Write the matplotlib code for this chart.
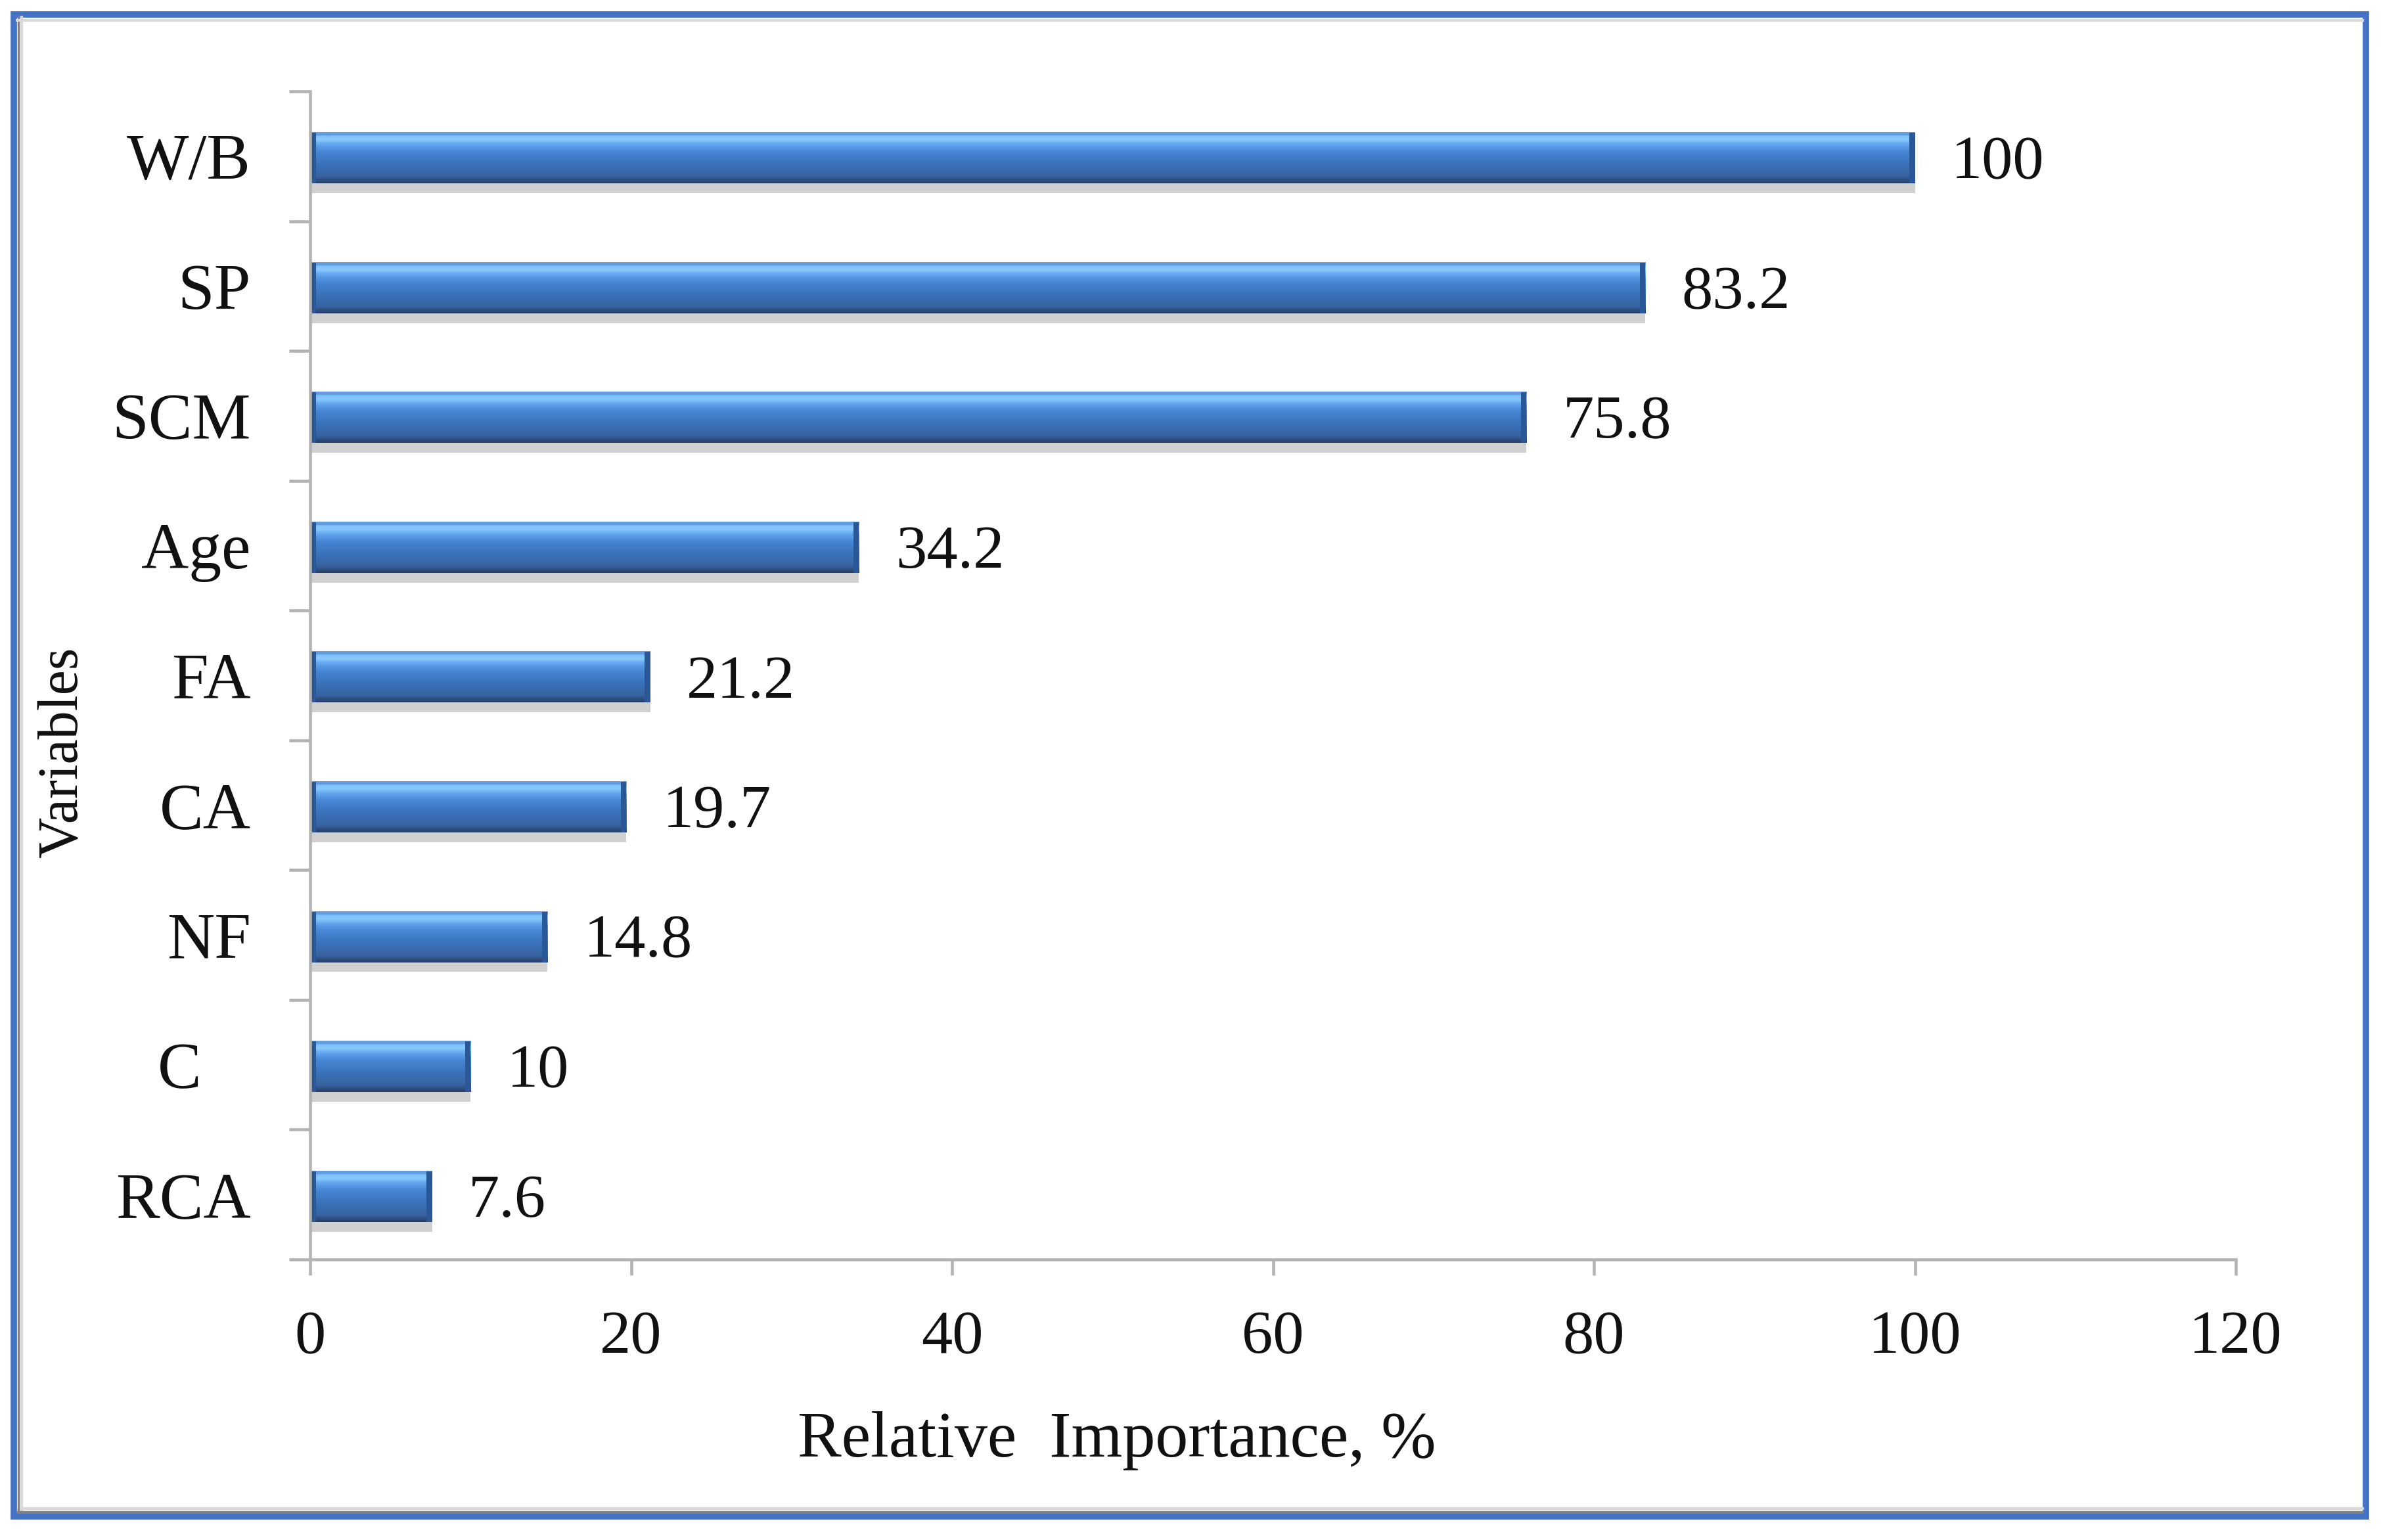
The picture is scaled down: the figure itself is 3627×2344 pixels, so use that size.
import numpy as np
import matplotlib
matplotlib.use("Agg")
import matplotlib.pyplot as plt
from matplotlib.colors import LinearSegmentedColormap
from matplotlib.patches import Rectangle
from matplotlib.lines import Line2D

# ---- data (bottom to top) ----
categories = ["RCA", "C   ", "NF", "CA", "FA", "Age", "SCM", "SP", "W/B"]
values = [7.6, 10, 14.8, 19.7, 21.2, 34.2, 75.8, 83.2, 100]
value_labels = ["7.6", "10", "14.8", "19.7", "21.2", "34.2", "75.8", "83.2", "100"]
xticks = [0, 20, 40, 60, 80, 100, 120]

W, H, DPI = 3627, 2344, 100
fig = plt.figure(figsize=(W / DPI, H / DPI), dpi=DPI)
fig.patch.set_facecolor("white")

plt.rcParams["font.family"] = ["Liberation Serif", "DejaVu Serif"]

ax = fig.add_axes([472 / W, 1 - 1917 / H, (3403 - 472) / W, (1917 - 139) / H])
ax.set_facecolor("none")

y = np.arange(len(categories))
bh = 0.39
yc = y - 0.015

# shadow
ax.barh(yc - 0.075, values, height=bh, color="#c8c8c8", alpha=0.85, zorder=1, linewidth=0)
bars = ax.barh(yc, values, height=bh, color="none", edgecolor="none", zorder=3)

cmap = LinearSegmentedColormap.from_list(
    "bar",
    [(0.0, "#263f66"), (0.07, "#2f4f80"), (0.13, "#3862a0"), (0.4, "#3b74bc"),
     (0.62, "#4787d6"), (0.76, "#62a4ee"), (0.85, "#86c9fc"), (0.92, "#80c2f9"),
     (0.95, "#5c9ae4"), (1.0, "#6a9fdc")])
grad = np.linspace(0, 1, 256).reshape(-1, 1)
for b in bars:
    x0, y0, w, h = b.get_x(), b.get_y(), b.get_width(), b.get_height()
    ax.imshow(grad, cmap=cmap, extent=(x0, x0 + w, y0, y0 + h), origin="lower",
              aspect="auto", zorder=2, interpolation="bilinear")
    # darker end caps
    ax.add_patch(Rectangle((x0, y0), 0.35, h, color="#2a5796", zorder=2.5, lw=0))
    ax.add_patch(Rectangle((x0 + w - 0.35, y0), 0.35, h, color="#2a5796", zorder=2.5, lw=0))

ax.set_xlim(0, 120)
ax.set_ylim(-0.5, len(categories) - 0.5)

for yi, v, lab in zip(y, values, value_labels):
    ax.annotate(lab, (v, yi), xytext=(40, -8), textcoords="offset points",
                va="center", ha="left", fontsize=68, color="#111111")

# axes styling
axis_col = "#b3b3b3"
for s in ["top", "right"]:
    ax.spines[s].set_visible(False)
for s in ["left", "bottom"]:
    ax.spines[s].set_color(axis_col)
    ax.spines[s].set_linewidth(3.3)

ax.set_yticks(y)
ax.set_yticklabels(categories, fontsize=72, color="#111111")
ax.tick_params(axis="y", which="major", length=0, pad=65)
ax.set_yticks(np.arange(-0.5, len(categories), 1.0), minor=True)
ax.tick_params(axis="y", which="minor", length=23, width=3.3, color=axis_col, direction="out")

ax.set_xticks(xticks)
ax.set_xticklabels([str(t) for t in xticks], fontsize=68, color="#111111")
ax.tick_params(axis="x", which="major", length=17, width=3.3, color=axis_col, direction="out", pad=39)

ax.set_xlabel("Relative  Importance, %", fontsize=72, color="#111111", va="center")
ax.xaxis.set_label_coords(1700 / W, 1 - 2193 / H, transform=fig.transFigure)
ax.set_ylabel("Variables", fontsize=62, color="#111111", va="center")
ax.yaxis.set_label_coords(97 / W, 1 - 1145 / H, transform=fig.transFigure)

# frame
def fx(px):
    return px / W

def fy(py):
    return 1 - py / H

# inner gray shadows
fig.add_artist(Line2D([fx(28), fx(28)], [fy(26), fy(2300)], color="#808080", lw=2.5, transform=fig.transFigure))
fig.add_artist(Line2D([fx(33), fx(33)], [fy(26), fy(2298)], color="#d9d9d9", lw=3, transform=fig.transFigure))
fig.add_artist(Line2D([fx(26), fx(3596)], [fy(31), fy(31)], color="#d9d9d9", lw=3, transform=fig.transFigure))
fig.add_artist(Line2D([fx(26), fx(3596)], [fy(2301), fy(2301)], color="#808080", lw=2.5, transform=fig.transFigure))
fig.add_artist(Line2D([fx(32), fx(3596)], [fy(2296), fy(2296)], color="#d9d9d9", lw=3, transform=fig.transFigure))
fig.add_artist(Rectangle((fx(21), fy(2308)), fx(3601) - fx(21), fy(22) - fy(2308),
                         transform=fig.transFigure, fill=False, edgecolor="#4472c4", lw=7))

fig.savefig("out.png", dpi=DPI, facecolor="white")
